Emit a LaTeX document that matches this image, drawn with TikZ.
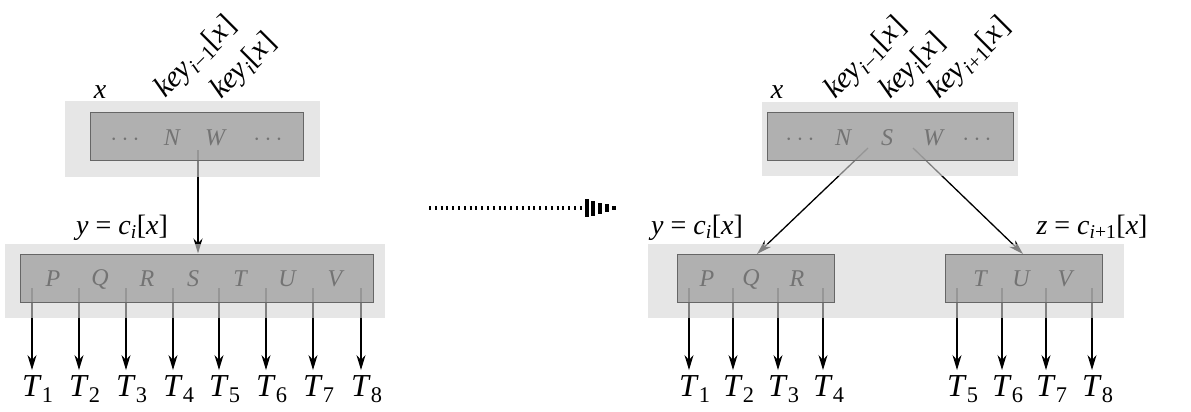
\documentclass[tikz,border=0pt]{standalone}
\usepackage{fontspec}
\setmainfont{Liberation Serif}
\usetikzlibrary{arrows.meta}
\pgfdeclarelayer{bg}
\pgfsetlayers{bg,main}
\newcommand\vi[1]{\textit{#1}}
\begin{document}
\begin{tikzpicture}[x=1pt,y=-1pt,
  halo/.style={fill=black!16, fill opacity=0.6, draw=none, inner sep=0},
  keybox/.style={draw=black!60, line width=1pt, fill=black!38, fill opacity=0.75, inner sep=0, minimum height=48pt},
  keyl/.style={text=black!55, font=\fontsize{24}{26}\selectfont\itshape, inner sep=0},
  lab/.style={font=\fontsize{28}{30}\selectfont, inner sep=0},
  rlab/.style={font=\fontsize{30}{32}\selectfont, inner sep=0, rotate=45, anchor=base west},
  tlab/.style={font=\fontsize{32}{34}\selectfont, inner sep=0, outer sep=5pt, anchor=base},
  ptr/.style={line width=1.3pt, -{Stealth[length=15pt,width=9pt]}}
]
\useasboundingbox (0,0) rectangle (1191,412);

% ---------------- left: before split ----------------
\node[halo, minimum width=255pt, minimum height=76pt] (lxh) at (192,139) {};
\node[keybox, minimum width=213pt] (lx) at (196.5,136) {};
\node[keyl] (lxd1) at (125,140) {$\cdots$};
\node[keyl] (lxN) at (172,138) {N};
\node[keyl] (lxW) at (215,138) {W};
\node[keyl] (lxd2) at (268,140) {$\cdots$};
\node[lab, anchor=base] (lxlab) at (100,99) {\vi{x}};
\node[rlab] (lk1) at (165,99) {\vi{key}\textsubscript{\vi{i}−1}[\vi{x}]};
\node[rlab] (lk2) at (221,100) {\vi{key}\textsubscript{\vi{i}}[\vi{x}]};

\node[halo, minimum width=380pt, minimum height=74pt] (lyh) at (195,281) {};
\node[keybox, minimum width=353pt] (ly) at (196.5,278) {};
\foreach \l/\xx in {P/53,Q/100,R/147,S/193,T/240,U/287,V/335}
  \node[keyl] (ly\l) at (\xx,279) {\l};
\node[lab, anchor=base] (lylab) at (122,234) {\vi{y} = \vi{c}\textsubscript{\vi{i}}[\vi{x}]};

\coordinate (lpa) at (198,150);
\begin{pgfonlayer}{bg}
\draw[ptr] (lpa) -- (lpa |- ly.north);
\end{pgfonlayer}

\foreach \n/\xx in {1/32,2/79,3/126,4/173,5/219,6/266,7/313,8/361}{
  \coordinate (lc\n) at (\xx,288);
  \node[tlab] (lT\n) at (\xx,396) {\vi{T}\rlap{\textsubscript{\n}}};
  \begin{pgfonlayer}{bg}
  \draw[ptr] (lc\n) -- (lT\n.north);
  \end{pgfonlayer}
}

% ---------------- middle arrow ----------------
\coordinate (ma1) at (429,208);
\coordinate (ma2) at (583,208);
\draw[line width=4.5pt, dash pattern=on 2pt off 3.8pt] (ma1) -- (ma2);
\foreach \xx/\hh in {587/9,593/7.5,600/5.5,607/3.8,614/2.2}
  \fill (\xx-1.6,208-\hh) rectangle (\xx+1.6,208+\hh);

% ---------------- right: after split ----------------
\node[halo, minimum width=256pt, minimum height=74pt] (rxh) at (890,139) {};
\node[keybox, minimum width=246pt] (rx) at (890,136) {};
\node[keyl] (rxd1) at (800,140) {$\cdots$};
\node[keyl] (rxN) at (843,138) {N};
\node[keyl] (rxS) at (887,138) {S};
\node[keyl] (rxW) at (933,138) {W};
\node[keyl] (rxd2) at (977,140) {$\cdots$};
\node[lab, anchor=base] (rxlab) at (777,99) {\vi{x}};
\node[rlab] (rk1) at (835,100) {\vi{key}\textsubscript{\vi{i}−1}[\vi{x}]};
\node[rlab] (rk2) at (890,100) {\vi{key}\textsubscript{\vi{i}}[\vi{x}]};
\node[rlab] (rk3) at (939,100) {\vi{key}\textsubscript{\vi{i}+1}[\vi{x}]};

\node[halo, minimum width=476pt, minimum height=74pt] (rh) at (886,281) {};
\node[keybox, minimum width=157pt] (ry) at (755.5,278) {};
\node[keybox, minimum width=157pt] (rz) at (1023.5,278) {};
\foreach \l/\xx in {P/707,Q/751,R/797}
  \node[keyl] (ry\l) at (\xx,279) {\l};
\foreach \l/\xx in {T/980,U/1021,V/1065}
  \node[keyl] (rz\l) at (\xx,279) {\l};
\node[lab, anchor=base] (rylab) at (697,234) {\vi{y} = \vi{c}\textsubscript{\vi{i}}[\vi{x}]};
\node[lab, anchor=base] (rzlab) at (1092,234) {\vi{z} = \vi{c}\textsubscript{\vi{i}+1}[\vi{x}]};

\coordinate (rpa) at (868,148);
\coordinate (rpb) at (913,148);
\coordinate (rya) at (757,254);
\coordinate (rzb) at (1023,254);
\begin{pgfonlayer}{bg}
\draw[ptr] (rpa) -- (rya);
\draw[ptr] (rpb) -- (rzb);
\end{pgfonlayer}

\foreach \n/\xx in {1/689,2/733,3/778,4/823,5/957,6/1002,7/1046,8/1092}{
  \coordinate (rc\n) at (\xx,288);
  \node[tlab] (rT\n) at (\xx,396) {\vi{T}\rlap{\textsubscript{\n}}};
  \begin{pgfonlayer}{bg}
  \draw[ptr] (rc\n) -- (rT\n.north);
  \end{pgfonlayer}
}
\end{tikzpicture}
\end{document}
